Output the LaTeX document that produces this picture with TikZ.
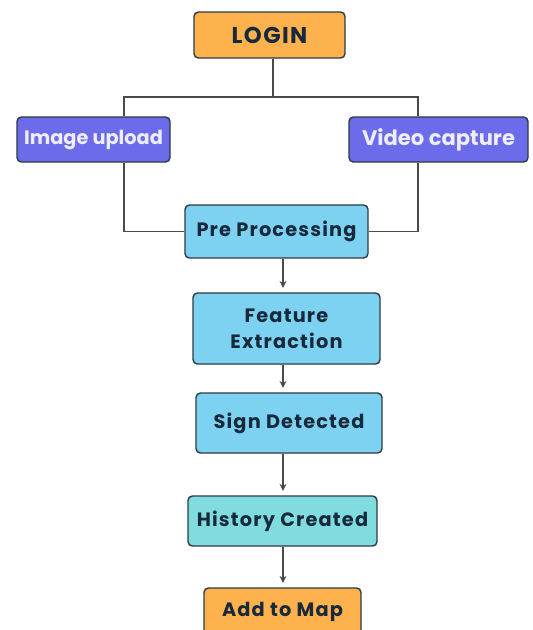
\documentclass[tikz,border=0pt]{standalone}
\usepackage{fontspec}
\setmainfont{Poppins}
\newfontfamily\wideface{Poppins}[LetterSpace=6]
\usepackage{xcolor}
\definecolor{colOrange}{HTML}{FDB24E}
\definecolor{colPurple}{HTML}{6C6CEA}
\definecolor{colBlue}{HTML}{7DD2F2}
\definecolor{colTeal}{HTML}{80DCDE}
\definecolor{colEdge}{HTML}{2E3A44}
\definecolor{colText}{HTML}{17293A}
\definecolor{colLine}{HTML}{4A4A4A}
\usetikzlibrary{arrows.meta, positioning, calc}

\begin{document}
\begin{tikzpicture}[x=0.02cm, y=-0.02cm, font=\wideface\bfseries\fontsize{11}{14}\selectfont,
    box/.style={rectangle, rounded corners=2.5pt, draw=colEdge, line width=0.8pt,
                text=colText, align=center, inner sep=0pt},
    link/.style={colLine, line width=1pt},
    arr/.style={link, -{Stealth[length=4pt, width=4pt]}, shorten >=2.5pt}]
        \clip (0,0) rectangle (533,630);
        \fill[white] (0,0) rectangle (533,630);
        % Login
        \node[box, fill=colOrange, minimum width=151*0.02cm, minimum height=46*0.02cm,
              font=\wideface\bfseries\fontsize{13}{14}\selectfont] (login) at (269.5,35) {LOGIN};
        % Sources
        \node[box, fill=colPurple, text=white!88!colPurple, minimum width=153*0.02cm,
              minimum height=45*0.02cm, font=\bfseries\fontsize{11}{14}\selectfont]
              (img) at (93.5,139.5) {Image upload};
        \node[box, fill=colPurple, text=white!88!colPurple, minimum width=179*0.02cm,
              minimum height=45*0.02cm, font=\bfseries\fontsize{12}{14}\selectfont]
              (vid) at (438.5,139.5) {Video capture};
        % Pipeline
        \node[box, fill=colBlue, minimum width=183*0.02cm, minimum height=53*0.02cm]
              (pre) at (276.5,231.5) {Pre Processing};
        \node[box, fill=colBlue, minimum width=187*0.02cm, minimum height=71*0.02cm]
              (feat) at (286.5,328.5) {Feature\\[1pt]Extraction};
        \node[box, fill=colBlue, minimum width=186*0.02cm, minimum height=60*0.02cm]
              (sign) at (289,423) {Sign Detected};
        \node[box, fill=colTeal, minimum width=189*0.02cm, minimum height=50*0.02cm]
              (hist) at (282.5,521) {History Created};
        \node[box, fill=colOrange, minimum width=157*0.02cm, minimum height=48*0.02cm]
              (map) at (282.5,612) {Add to Map};
        % Guides
        \coordinate (split) at (273,97);
        \coordinate (lft) at (124,0);
        \coordinate (rgt) at (418,0);
        \coordinate (spine) at (283,0);
        % Branches
        \draw[link] (login.south -| split) -- (split) -| (img.north -| lft);
        \draw[link] (split) -| (vid.north -| rgt);
        \draw[link] (img.south -| lft) |- (pre.west);
        \draw[link] (vid.south -| rgt) |- (pre.east);
        % Arrows
        \draw[arr] (pre.south -| spine) -- (feat.north -| spine);
        \draw[arr] (feat.south -| spine) -- (sign.north -| spine);
        \draw[arr] (sign.south -| spine) -- (hist.north -| spine);
        \draw[arr] (hist.south -| spine) -- (map.north -| spine);
    \end{tikzpicture}
\end{document}
